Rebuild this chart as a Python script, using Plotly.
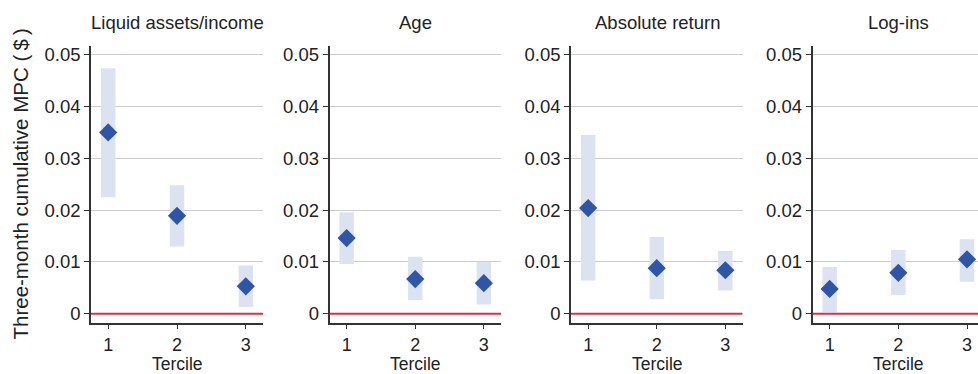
import plotly.graph_objects as go

panels = ["Liquid assets/income", "Age", "Absolute return", "Log-ins"]
terciles = [1, 2, 3]
mpc_point = [
    [0.0350, 0.0189, 0.0053],
    [0.0146, 0.0067, 0.0059],
    [0.0204, 0.0088, 0.0084],
    [0.0048, 0.0079, 0.0105],
]
ci_low = [
    [0.0225, 0.0130, 0.0013],
    [0.0096, 0.0026, 0.0018],
    [0.0064, 0.0028, 0.0045],
    [0.0003, 0.0036, 0.0062],
]
ci_high = [
    [0.0474, 0.0248, 0.0093],
    [0.0196, 0.0110, 0.0100],
    [0.0345, 0.0148, 0.0121],
    [0.0090, 0.0123, 0.0144],
]
ytick_vals = [0, 0.01, 0.02, 0.03, 0.04, 0.05]
ytick_text = ["0", "0.01", "0.02", "0.03", "0.04", "0.05"]

W, H = 978, 374
FONT = "Liberation Sans, Arial, Helvetica, sans-serif"
TXT = "#222222"
FS = 18.5
# panel pixel extents (left, right) and x ranges
px_dom = [(91, 263), (329.5, 501), (571, 742.5), (812.5, 978)]
x_ranges = [[0.75, 3.25], [0.75, 3.25], [0.75, 3.25], [0.75, 3.16]]
centers = [177, 415, 657, 898]
y_dom = [(H - 323.3) / H, (H - 44.3) / H]

fig = go.Figure()
for i in range(4):
    xa = "x" if i == 0 else f"x{i+1}"
    ya = "y" if i == 0 else f"y{i+1}"
    lows = ci_low[i]
    highs = ci_high[i]
    fig.add_trace(go.Bar(
        x=terciles, y=[h - l for h, l in zip(highs, lows)], base=lows,
        width=0.21, marker=dict(color="#DDE2F0", line=dict(width=0)),
        xaxis=xa, yaxis=ya, showlegend=False, hoverinfo="skip"))
    fig.add_trace(go.Scatter(
        x=terciles, y=mpc_point[i], mode="markers",
        marker=dict(symbol="diamond", size=14, color="#2F55A6"),
        xaxis=xa, yaxis=ya, showlegend=False))
    fig.add_shape(type="line", xref=xa, yref=ya,
                  x0=x_ranges[i][0], x1=x_ranges[i][1], y0=0, y1=0,
                  line=dict(color="#D4334A", width=2))
    sfx = "" if i == 0 else str(i + 1)
    fig.layout["xaxis" + sfx] = dict(
        domain=[px_dom[i][0] / W, px_dom[i][1] / W], range=x_ranges[i],
        anchor=ya, tickvals=terciles, ticktext=[str(t) for t in terciles],
        ticks="outside", ticklen=5, tickcolor="#333", showline=True,
        linecolor="#333", linewidth=1.5, showgrid=False, zeroline=False,
        tickfont=dict(size=18, color=TXT, family=FONT), fixedrange=True)
    fig.layout["yaxis" + sfx] = dict(
        domain=y_dom, range=[-0.00173, 0.0517], anchor=xa,
        tickvals=ytick_vals, ticktext=ytick_text, ticks="outside", ticklen=5,
        tickcolor="#333", showline=True, linecolor="#333", linewidth=1.5,
        showgrid=True, gridcolor="#CCCCCC", gridwidth=1, zeroline=False,
        tickfont=dict(size=FS, color=TXT, family=FONT), fixedrange=True)
    fig.add_annotation(text=panels[i], xref="paper", yref="paper",
                       x=centers[i] / W, y=(H - 21) / H, showarrow=False,
                       xanchor="center", yanchor="middle",
                       font=dict(size=FS, color=TXT, family=FONT))
    fig.add_annotation(text="Tercile", xref="paper", yref="paper",
                       x=centers[i] / W, y=(H - 364.5) / H, showarrow=False,
                       xanchor="center", yanchor="middle", borderpad=0,
                       font=dict(size=17.5, color=TXT, family=FONT))

fig.add_annotation(text="Three-month cumulative MPC (\u2009$\u2009)", xref="paper", yref="paper",
                   x=21 / W, y=(H - 184) / H, showarrow=False, textangle=-90,
                   xanchor="center", yanchor="middle",
                   font=dict(size=20.5, color=TXT, family=FONT))

fig.update_layout(width=W, height=H, margin=dict(l=0, r=0, t=0, b=0),
                  paper_bgcolor="white", plot_bgcolor="white",
                  barmode="overlay", font=dict(family=FONT, color=TXT))
fig.write_html("out.html")
